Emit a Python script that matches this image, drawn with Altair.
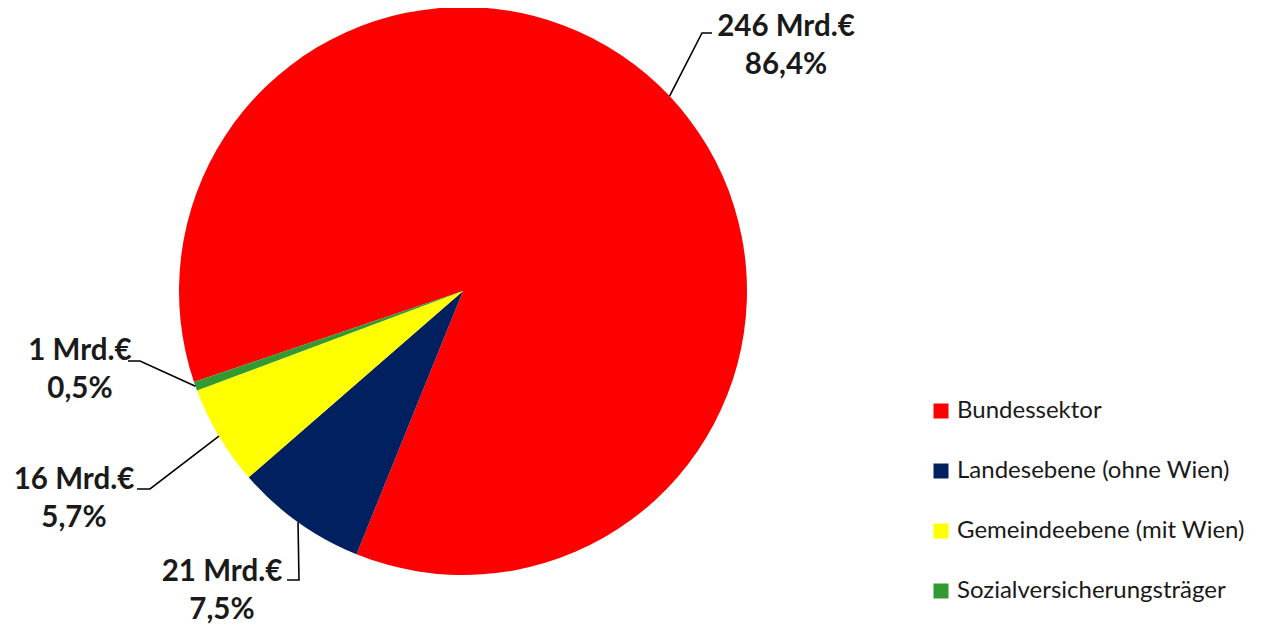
import math
import altair as alt
import pandas as pd

# ---- data ----
categories = ["Bundessektor", "Landesebene (ohne Wien)", "Gemeindeebene (mit Wien)", "Sozialversicherungsträger"]
amounts = [246, 21, 16, 1]
percents = [86.4, 7.5, 5.7, 0.5]
colors = ["#FF0000", "#002060", "#FFFF00", "#339933"]

# ---- layout (pixels inside the plot area) ----
W, H = 1250, 623
CX, CY, R = 455, 283, 284
START_DEG = 251.3
# leader-line elbow and end points, and label anchors (annotation layout)
elbows = [(694, 25), (291, 572), (142, 481), (132, 353)]
ends = [(704, 25), (279, 572), (129, 481), (120, 353)]
label_pos = [(778, 19), (214, 564), (66, 472), (72, 343)]

start = math.radians(START_DEG)
total = sum(percents)

def fmt_pct(p):
    return f"{p:.1f}".replace(".", ",") + "%"

pie_df = pd.DataFrame({
    "cat": categories,
    "pct": percents,
    "idx": list(range(len(categories))),
})

line_rows, label_rows = [], []
cum = 0.0
for i, (c, a, p) in enumerate(zip(categories, amounts, percents)):
    mid = start + 2 * math.pi * (cum + p / 2) / total
    cum += p
    ex = CX + R * math.sin(mid)
    ey = CY - R * math.cos(mid)
    pts = [(ex, ey), elbows[i], ends[i]]
    for k, (x, y) in enumerate(pts):
        line_rows.append({"cat": c, "pt": k, "x": x, "y": y})
    label_rows.append({"cat": c, "x": label_pos[i][0], "y": label_pos[i][1],
                       "label": f"{a} Mrd.€\n{fmt_pct(p)}"})

line_df = pd.DataFrame(line_rows)
label_df = pd.DataFrame(label_rows)

xs = alt.Scale(domain=[0, W], nice=False, zero=False)
ys = alt.Scale(domain=[H, 0], nice=False, zero=False)

pie = alt.Chart(pie_df).mark_arc(outerRadius=R).encode(
    theta=alt.Theta("pct:Q", stack=True,
                    scale=alt.Scale(range=[start, start + 2 * math.pi])),
    color=alt.Color("cat:N",
                    scale=alt.Scale(domain=categories, range=colors),
                    sort=categories,
                    legend=alt.Legend(title=None, orient="none", legendX=921, legendY=391,
                                      symbolType="square", symbolSize=225,
                                      symbolStrokeWidth=0,
                                      labelFont="Lato", labelFontSize=24,
                                      labelColor="#1a1a1a", labelLimit=0,
                                      labelOffset=4, rowPadding=36)),
    order=alt.Order("idx:Q"),
    x=alt.value(CX),
    y=alt.value(CY),
)

lines = alt.Chart(line_df).mark_line(color="black", strokeWidth=1.6).encode(
    x=alt.X("x:Q", scale=xs, axis=None),
    y=alt.Y("y:Q", scale=ys, axis=None),
    detail="cat:N",
    order="pt:Q",
)

labels = alt.Chart(label_df).mark_text(
    font="Lato", fontWeight="bold", fontSize=29.5, lineBreak="\n", lineHeight=38,
    align="center", baseline="middle", color="#1a1a1a",
).encode(
    x=alt.X("x:Q", scale=xs, axis=None),
    y=alt.Y("y:Q", scale=ys, axis=None),
    text="label:N",
)

chart = alt.layer(pie, lines, labels).properties(
    width=W, height=H, padding=0,
    autosize=alt.AutoSizeParams(type="none"),
).configure_view(strokeWidth=0)

chart.save("out.html", embed_options={"renderer": "svg", "actions": False})
